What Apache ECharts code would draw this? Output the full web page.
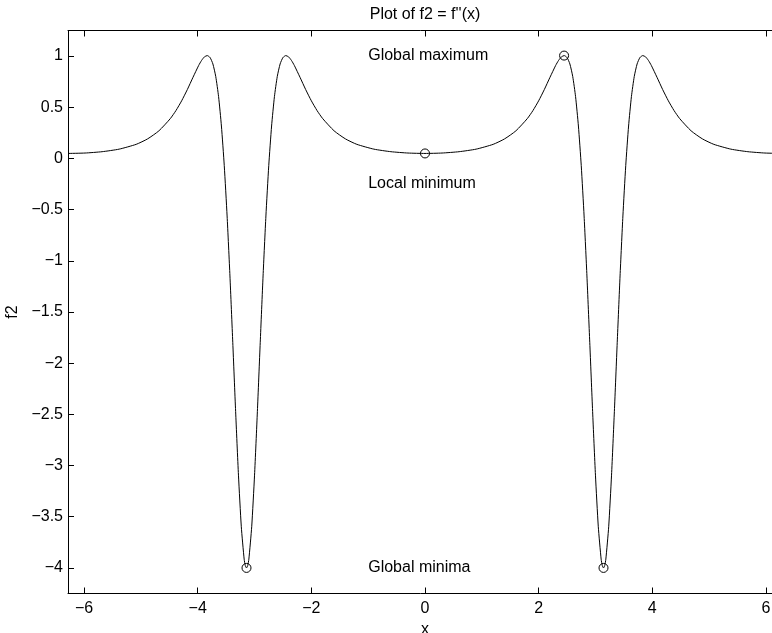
<!DOCTYPE html>
<html>
<head>
<meta charset="utf-8">
<title>Plot of f2 = f''(x)</title>
<script src="https://cdn.jsdelivr.net/npm/echarts@6/dist/echarts.min.js"></script>
<style>
  html, body { margin: 0; padding: 0; background: #fff; overflow: hidden; }
  #main { width: 772px; height: 633px; }
</style>
</head>
<body>
<div id="main"></div>
<script>
// curve samples, x from -2pi to 2pi
var curveX = [
  -6.283, -5.983, -5.683, -5.383, -5.083, -4.883, -4.683, -4.483, -4.383, -4.283,
  -4.183, -4.083, -3.983, -3.933, -3.883, -3.833, -3.783, -3.733, -3.683, -3.633,
  -3.583, -3.533, -3.483, -3.433, -3.383, -3.333, -3.283, -3.233, -3.183, -3.163,
  -3.1416, -3.12, -3.1, -3.05, -3.0, -2.95, -2.9, -2.85, -2.8, -2.75,
  -2.7, -2.65, -2.6, -2.55, -2.5, -2.45, -2.4, -2.35, -2.3, -2.2,
  -2.1, -2.0, -1.9, -1.8, -1.6, -1.4, -1.2, -0.9, -0.6, -0.3,
  0,
  0.3, 0.6, 0.9, 1.2, 1.4, 1.6, 1.8, 1.9, 2.0, 2.1,
  2.2, 2.3, 2.35, 2.4, 2.45, 2.5, 2.55, 2.6, 2.65, 2.7,
  2.75, 2.8, 2.85, 2.9, 2.95, 3.0, 3.05, 3.1, 3.12, 3.1416,
  3.163, 3.183, 3.233, 3.283, 3.333, 3.383, 3.433, 3.483, 3.533, 3.583,
  3.633, 3.683, 3.733, 3.783, 3.833, 3.883, 3.933, 3.983, 4.083, 4.183,
  4.283, 4.383, 4.483, 4.683, 4.883, 5.083, 5.383, 5.683, 5.983, 6.283
];
var curveY = [
  0.049, 0.053, 0.066, 0.091, 0.138, 0.191, 0.270, 0.389, 0.468, 0.563,
  0.673, 0.793, 0.909, 0.957, 0.992, 1.005, 0.986, 0.923, 0.801, 0.604,
  0.317, -0.070, -0.562, -1.148, -1.800, -2.471, -3.094, -3.598, -3.914, -3.977,
  -4.000, -3.977, -3.914, -3.598, -3.094, -2.471, -1.800, -1.148, -0.562, -0.070,
  0.317, 0.604, 0.801, 0.923, 0.986, 1.005, 0.992, 0.957, 0.909, 0.793,
  0.673, 0.563, 0.468, 0.389, 0.270, 0.191, 0.138, 0.091, 0.066, 0.053,
  0.049,
  0.053, 0.066, 0.091, 0.138, 0.191, 0.270, 0.389, 0.468, 0.563, 0.673,
  0.793, 0.909, 0.957, 0.992, 1.005, 0.986, 0.923, 0.801, 0.604, 0.317,
  -0.070, -0.562, -1.148, -1.800, -2.471, -3.094, -3.598, -3.914, -3.977, -4.000,
  -3.977, -3.914, -3.598, -3.094, -2.471, -1.800, -1.148, -0.562, -0.070, 0.317,
  0.604, 0.801, 0.923, 0.986, 1.005, 0.992, 0.957, 0.909, 0.793, 0.673,
  0.563, 0.468, 0.389, 0.270, 0.191, 0.138, 0.091, 0.066, 0.053, 0.049
];

// circled points
var markX = [-3.1416, 0, 2.448, 3.1416];
var markY = [-4, 0.049, 1.005, -4];

// text notes
var noteText = ['Global maximum', 'Local minimum', 'Global minima'];
var noteX = [-1, -1, -1];
var noteY = [1, -0.25, -4];

var xTicks = [-6, -4, -2, 0, 2, 4, 6];
var yTicks = [-4, -3.5, -3, -2.5, -2, -1.5, -1, -0.5, 0, 0.5, 1];

var FONT = '"Liberation Sans", Arial, Helvetica, sans-serif';
var FS = 16;

function zip(a, b) {
  return a.map(function (v, i) { return [v, b[i]]; });
}
function fmt(v) {
  return String(v).replace('-', '\u2212');
}

var myChart = echarts.init(document.getElementById('main'));

var blackLine = { show: true, onZero: false, lineStyle: { color: '#000', width: 1 } };

var option = {
  backgroundColor: '#fff',
  animation: false,
  // the right edge of the axes box lies past the image, as in the original
  grid: { left: 68, top: 30.5, width: 714, bottom: 39.5, containLabel: false, outerBoundsMode: 'none' },
  graphic: [{
    type: 'text',
    x: 425, y: 15,
    style: {
      text: "Plot of f2 = f''(x)",
      font: FS + 'px ' + FONT,
      fill: '#000',
      textAlign: 'center',
      textVerticalAlign: 'middle'
    }
  }],
  xAxis: [{
    type: 'value',
    position: 'bottom',
    min: -6.2832, max: 6.2832,
    name: 'x',
    nameLocation: 'middle',
    nameGap: 24,
    nameTextStyle: { color: '#000', fontSize: FS, fontFamily: FONT },
    axisLine: blackLine,
    splitLine: { show: false },
    axisTick: { show: true, inside: true, length: 6, customValues: xTicks, lineStyle: { color: '#000' } },
    axisLabel: { show: true, customValues: xTicks, margin: 7, color: '#000', fontSize: FS, fontFamily: FONT, formatter: fmt }
  }, {
    type: 'value',
    position: 'top',
    min: -6.2832, max: 6.2832,
    axisLine: blackLine,
    splitLine: { show: false },
    axisTick: { show: true, inside: true, length: 6, customValues: xTicks, lineStyle: { color: '#000' } },
    axisLabel: { show: false }
  }],
  yAxis: [{
    type: 'value',
    position: 'left',
    min: -4.25, max: 1.25,
    name: 'f2',
    nameLocation: 'middle',
    nameGap: 47,
    nameTextStyle: { color: '#000', fontSize: FS, fontFamily: FONT },
    axisLine: blackLine,
    splitLine: { show: false },
    axisTick: { show: true, inside: true, length: 6, customValues: yTicks, lineStyle: { color: '#000' } },
    axisLabel: { show: true, customValues: yTicks, margin: 5, color: '#000', fontSize: FS, fontFamily: FONT, formatter: fmt }
  }],
  series: [{
    type: 'line',
    data: zip(curveX, curveY),
    showSymbol: false,
    smooth: 0.2,
    lineStyle: { color: '#000', width: 1 },
    silent: true
  }, {
    type: 'scatter',
    data: zip(markX, markY),
    symbol: 'circle',
    symbolSize: 9,
    itemStyle: { color: 'rgba(0,0,0,0)', borderColor: '#000', borderWidth: 1, opacity: 1 },
    silent: true,
    z: 3
  }, {
    type: 'scatter',
    data: zip(noteX, noteY),
    symbolSize: 0,
    silent: true,
    itemStyle: { opacity: 1 },
    label: {
      show: true,
      position: 'right',
      distance: 0,
      color: '#000',
      fontSize: FS,
      fontFamily: FONT,
      formatter: function (p) { return noteText[p.dataIndex]; }
    }
  }]
};

myChart.setOption(option);
</script>
</body>
</html>
